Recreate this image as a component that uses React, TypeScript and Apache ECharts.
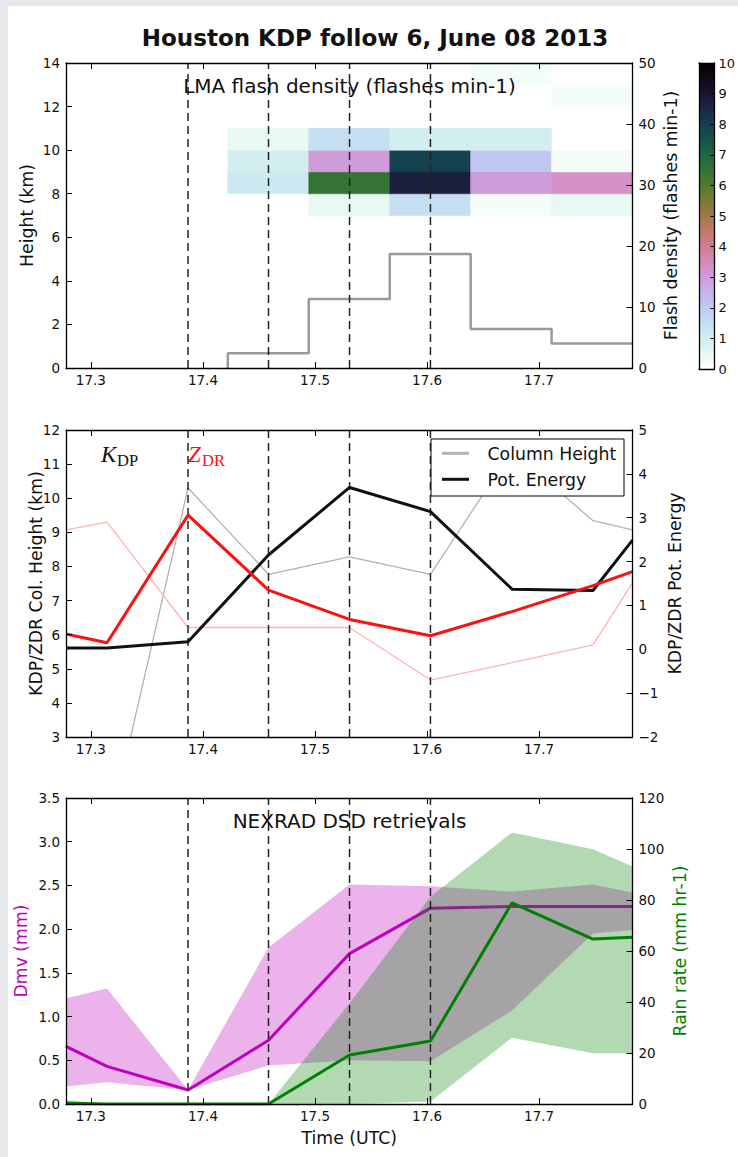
import React, { useEffect, useRef } from "react";
import * as echarts from "echarts";

// ---------------- data ----------------
const X_MIN = 17.2778;
const X_MAX = 17.7833;
const X_TICKS = [17.3, 17.4, 17.5, 17.6, 17.7];
const VOLUME_MARKS = [17.3867, 17.4585, 17.5308, 17.603];

// LMA panel
const LMA_BIN_EDGES = [17.2778, 17.35, 17.4222, 17.4944, 17.5667, 17.6389, 17.7111, 17.7833];
const FLASH_RATE = [0, 0, 2.4, 11.3, 18.7, 6.4, 4.0];
const DENSITY_ROW_KM = [7, 8, 9, 10, 12, 13];
const DENSITY_7KM = [0, 0, 0, 0.5, 1.5, 0.2, 0.5];
const DENSITY_8KM = [0, 0, 1.2, 6.5, 8.7, 3.0, 3.3];
const DENSITY_9KM = [0, 0, 1.0, 3.0, 7.9, 2.1, 0.2];
const DENSITY_10KM = [0, 0, 0.5, 1.5, 1.0, 1.0, 0];
const DENSITY_12KM = [0, 0, 0, 0, 0, 0, 0.2];
const DENSITY_13KM = [0, 0, 0, 0, 0, 0.2, 0];
const DENSITY_ROWS = [DENSITY_7KM, DENSITY_8KM, DENSITY_9KM, DENSITY_10KM, DENSITY_12KM, DENSITY_13KM];

// radar volume times
const TIMES = [17.2778, 17.3144, 17.3867, 17.4585, 17.5308, 17.603, 17.6758, 17.748, 17.7833];
// KDP / ZDR panel
const KDP_COL_HEIGHT = [0, 0, 10.3, 7.77, 8.28, 7.77, 11.4, 9.34, 9.07];
const ZDR_COL_HEIGHT = [9.07, 9.3, 6.21, 6.21, 6.21, 4.67, 5.18, 5.7, 7.52];
const KDP_POT_ENERGY = [0.03, 0.03, 0.17, 2.15, 3.69, 3.14, 1.37, 1.34, 2.49];
const ZDR_POT_ENERGY = [0.35, 0.15, 3.06, 1.35, 0.68, 0.31, 0.86, 1.45, 1.77];
// DSD panel
const DMV = [0.66, 0.43, 0.16, 0.73, 1.72, 2.24, 2.26, 2.26, 2.26];
const DMV_HI = [1.21, 1.32, 0.16, 1.79, 2.51, 2.49, 2.43, 2.51, 2.42];
const DMV_LO = [0.2, 0.25, 0.16, 0.44, 0.5, 0.49, 1.07, 1.95, 1.99];
const RAIN = [0.3, 0, 0, 0, 19.2, 24.7, 78.9, 64.7, 65.4];
const RAIN_HI = [1.6, 0, 0, 0, 39.5, 81.3, 106.5, 99.9, 93.1];
const RAIN_LO = [0, 0, 0, 0, 0, 1, 26, 19.9, 19.9];

const COLORBAR_RANGE = [0, 10];

// ---------------- colormap (cubehelix reversed) ----------------
function cubehelixR(v: number): string {
  const lam = Math.min(1, Math.max(0, 1 - v / 10));
  const a = (lam * (1 - lam)) / 2;
  const phi = 2 * Math.PI * (0.5 / 3 - 1.5 * lam);
  const c = Math.cos(phi);
  const s = Math.sin(phi);
  const r = lam + a * (-0.14861 * c + 1.78277 * s);
  const g = lam + a * (-0.29227 * c - 0.90649 * s);
  const b = lam + a * (1.97294 * c);
  const to = (x: number) => Math.round(Math.min(1, Math.max(0, x)) * 255);
  return `rgb(${to(r)},${to(g)},${to(b)})`;
}
const CMAP = Array.from({ length: 41 }, (_, i) => cubehelixR(i * 0.25));

const FONT = "DejaVu Sans";
const TICK_FS = 13.5;
const LABEL_FS = 17.3;
const FRAME = { show: true, onZero: false, lineStyle: { color: "#000", width: 1.3 } };

const pair = (xs: number[], ys: number[]) => xs.map((x, i) => [x, ys[i]]);

export default function App() {
  const ref = useRef<HTMLDivElement>(null);

  useEffect(() => {
    if (!ref.current) return;
    const chart = echarts.init(ref.current, null, { renderer: "svg" });

    const grids = [
      { left: 66, top: 63, width: 566.5, height: 305 },
      { left: 66, top: 430, width: 566.5, height: 307 },
      { left: 66, top: 798, width: 566.5, height: 306 },
      { left: 699, top: 63, width: 16, height: 306 },
    ].map((g) => ({ ...g, show: false }));

    const tick = { show: true, inside: true, length: 6, lineStyle: { color: "#000", width: 1 } };
    const xAxisPair = (gi: number, withName?: string) => [
      {
        type: "value", gridIndex: gi, min: X_MIN, max: X_MAX, position: "bottom", z: 10,
        axisLine: FRAME, splitLine: { show: false },
        axisTick: { ...tick, customValues: X_TICKS },
        axisLabel: { customValues: X_TICKS, formatter: (v: number) => v.toFixed(1), fontFamily: FONT, fontSize: TICK_FS, color: "#111", margin: 5 },
        name: withName || "", nameLocation: "middle", nameGap: 25, nameMoveOverlap: false,
        nameTextStyle: { fontFamily: FONT, fontSize: LABEL_FS, color: "#111" },
      },
      {
        type: "value", gridIndex: gi, min: X_MIN, max: X_MAX, position: "top", z: 10,
        axisLine: FRAME, splitLine: { show: false },
        axisTick: { ...tick, customValues: X_TICKS },
        axisLabel: { show: false, customValues: X_TICKS },
      },
    ];
    const minus = (v: number) => (v < 0 ? "\u2212" + Math.abs(v) : String(v));
    const yAxis = (gi: number, position: string, min: number, max: number, interval: number, name: string, nameGap: number, nameColor = "#111", fmt: any = minus) => ({
      type: "value", gridIndex: gi, position, min, max, interval, z: 10,
      axisLine: FRAME, splitLine: { show: false },
      axisTick: tick,
      axisLabel: { fontFamily: FONT, fontSize: TICK_FS, color: "#111", margin: 6, formatter: fmt },
      name, nameLocation: "middle", nameGap, nameRotate: 90, nameMoveOverlap: false,
      nameTextStyle: { fontFamily: FONT, fontSize: LABEL_FS, color: nameColor },
    });

    const dashed = (xi: number, yi: number, lo: number, hi: number, z = 3) =>
      VOLUME_MARKS.map((t) => ({
        type: "line", xAxisIndex: xi, yAxisIndex: yi, data: [[t, lo], [t, hi]], z,
        symbol: "none", silent: true,
        lineStyle: { color: "#222", width: 1.5, type: [8, 5] },
      }));

    const band = (xi: number, yi: number, lo: number[], hi: number[], fill: string, z: number) => ({
      type: "custom", xAxisIndex: xi, yAxisIndex: yi, silent: true, clip: true, z,
      data: TIMES.map((t, i) => [t, lo[i], hi[i]]),
      encode: { x: 0, y: [1, 2] },
      renderItem: (params: any, api: any) => {
        if (params.dataIndexInside !== 0) return null;
        const n = params.dataInsideLength;
        const pts: number[][] = [];
        for (let i = 0; i < n; i++) pts.push(api.coord([api.value(0, i), api.value(1, i)]));
        for (let i = n - 1; i >= 0; i--) pts.push(api.coord([api.value(0, i), api.value(2, i)]));
        return { type: "polygon", shape: { points: pts }, style: { fill } };
      },
    });

    // heatmap cells
    const cells: number[][] = [];
    DENSITY_ROWS.forEach((row, r) => {
      row.forEach((v, c) => {
        if (v > 0) cells.push([LMA_BIN_EDGES[c], LMA_BIN_EDGES[c + 1], DENSITY_ROW_KM[r], DENSITY_ROW_KM[r] + 1, v]);
      });
    });
    const firstFlash = FLASH_RATE.findIndex((v) => v > 0);
    const flashStep = [
      [LMA_BIN_EDGES[firstFlash], 0],
      ...LMA_BIN_EDGES.slice(firstFlash).map((t, i) => [t, FLASH_RATE[Math.min(firstFlash + i, FLASH_RATE.length - 1)]]),
    ];

    const series: any[] = [
      {
        type: "custom", xAxisIndex: 0, yAxisIndex: 0, data: cells, clip: true, z: 2,
        encode: { x: [0, 1], y: [2, 3] },
        renderItem: (params: any, api: any) => {
          const p0 = api.coord([api.value(0), api.value(3)]);
          const p1 = api.coord([api.value(1), api.value(2)]);
          const col = api.visual("color");
          return {
            type: "rect",
            shape: { x: p0[0], y: p0[1], width: p1[0] - p0[0], height: p1[1] - p0[1] },
            style: { fill: col, stroke: col, lineWidth: 0.5 },
          };
        },
      },
      {
        type: "line", xAxisIndex: 0, yAxisIndex: 1, data: flashStep, step: "end", z: 3,
        symbol: "none", lineStyle: { color: "#999", width: 2.5 },
      },
      ...dashed(0, 0, 0, 14),
      // panel 2
      { type: "line", xAxisIndex: 2, yAxisIndex: 2, z: 2, data: pair(TIMES, KDP_COL_HEIGHT), symbol: "none", lineStyle: { color: "#b3b3b3", width: 1.3 } },
      { type: "line", xAxisIndex: 2, yAxisIndex: 2, z: 2, data: pair(TIMES, ZDR_COL_HEIGHT), symbol: "none", lineStyle: { color: "#ffb3b3", width: 1.3 } },
      ...dashed(2, 2, 3, 12),
      { type: "line", xAxisIndex: 2, yAxisIndex: 3, z: 4, data: pair(TIMES, KDP_POT_ENERGY), symbol: "none", lineStyle: { color: "#111", width: 3 } },
      { type: "line", xAxisIndex: 2, yAxisIndex: 3, z: 5, data: pair(TIMES, ZDR_POT_ENERGY), symbol: "none", lineStyle: { color: "#ff1010", width: 3 } },
      // panel 3
      band(4, 4, DMV_LO, DMV_HI, "rgba(191,0,191,0.3)", 2),
      { type: "line", xAxisIndex: 4, yAxisIndex: 4, z: 3, data: pair(TIMES, DMV), symbol: "none", lineStyle: { color: "#bf00bf", width: 3 } },
      band(4, 5, RAIN_LO, RAIN_HI, "rgba(0,128,0,0.3)", 4),
      ...dashed(4, 4, 0, 3.5, 5),
      { type: "line", xAxisIndex: 4, yAxisIndex: 5, z: 6, data: pair(TIMES, RAIN), symbol: "none", lineStyle: { color: "#008000", width: 3 } },
      // colorbar
      {
        type: "custom", xAxisIndex: 6, yAxisIndex: 7, data: [[0.5, ...COLORBAR_RANGE]],
        encode: { x: 0, y: [1, 2] },
        renderItem: (params: any, api: any) => {
          const cs = params.coordSys;
          return {
            type: "rect",
            shape: { x: cs.x, y: cs.y, width: cs.width, height: cs.height },
            style: {
              fill: new echarts.graphic.LinearGradient(0, 1, 0, 0, CMAP.map((c, i) => ({ offset: i / (CMAP.length - 1), color: c }))),
            },
          };
        },
      },
    ];

    const txt = (x: number, y: number, text: string, font: string, fill = "#111", align = "center") => ({
      type: "text", x, y, z: 60,
      style: { text, font, fill, align, verticalAlign: "middle" },
    });

    const cbAxisBase = { type: "value", gridIndex: 3, min: 0, max: 1, z: 10, axisLine: FRAME, axisTick: { show: false }, axisLabel: { show: false }, splitLine: { show: false } };

    const option: any = {
      animation: false,
      backgroundColor: "transparent",
      textStyle: { fontFamily: FONT },
      grid: grids,
      xAxis: [
        ...xAxisPair(0),
        ...xAxisPair(1),
        ...xAxisPair(2, "Time (UTC)"),
        { ...cbAxisBase, position: "bottom" },
        { ...cbAxisBase, position: "top" },
      ],
      yAxis: [
        yAxis(0, "left", 0, 14, 2, "Height (km)", 31),
        yAxis(0, "right", 0, 50, 10, "Flash density (flashes min-1)", 30),
        yAxis(1, "left", 3, 12, 1, "KDP/ZDR Col. Height (km)", 22),
        yAxis(1, "right", -2, 5, 1, "KDP/ZDR Pot. Energy", 34),
        yAxis(2, "left", 0, 3.5, 0.5, "Dmv (mm)", 37, "#bf00bf", (v: number) => v.toFixed(1)),
        yAxis(2, "right", 0, 120, 20, "Rain rate (mm hr-1)", 39, "#008000"),
        { ...cbAxisBase, position: "left", min: 0, max: 10 },
        {
          type: "value", gridIndex: 3, position: "right", min: 0, max: 10, interval: 1, z: 10,
          axisLine: FRAME, splitLine: { show: false },
          axisTick: { show: true, inside: true, length: 4, lineStyle: { color: "#000", width: 1 } },
          axisLabel: { fontFamily: FONT, fontSize: 13, color: "#111", margin: 4 },
        },
      ],
      visualMap: [
        {
          type: "continuous", show: false, min: 0, max: 10, dimension: 4, seriesIndex: 0,
          inRange: { color: CMAP },
        },
      ],
      graphic: [
        txt(375, 38, "Houston KDP follow 6, June 08 2013", `bold 23px "${FONT}"`),
        txt(349.5, 86, "LMA flash density (flashes min-1)", `20px "${FONT}"`),
        txt(349.5, 821, "NEXRAD DSD retrievals", `20px "${FONT}"`),
        txt(101, 454, "K", `italic 23px "Liberation Serif"`, "#111", "left"),
        txt(117, 460, "DP", `16.5px "Liberation Serif"`, "#111", "left"),
        txt(188, 454, "Z", `italic 23px "Liberation Serif"`, "#ff1010", "left"),
        txt(202, 460, "DR", `16.5px "Liberation Serif"`, "#ff1010", "left"),
        {
          type: "rect", z: 55, shape: { x: 431, y: 439, width: 193, height: 57 },
          style: { fill: "#fff", stroke: "#000", lineWidth: 1 },
        },
        { type: "line", z: 60, shape: { x1: 442, y1: 453.3, x2: 469, y2: 453.3 }, style: { stroke: "#b3b3b3", lineWidth: 3 } },
        { type: "line", z: 60, shape: { x1: 442, y1: 479.3, x2: 469, y2: 479.3 }, style: { stroke: "#111", lineWidth: 3 } },
        txt(487.5, 453.5, "Column Height", `${LABEL_FS}px "${FONT}"`, "#111", "left"),
        txt(487.5, 479.5, "Pot. Energy", `${LABEL_FS}px "${FONT}"`, "#111", "left"),
      ],
      series,
    };

    chart.setOption(option);
    return () => chart.dispose();
  }, []);

  return (
    <div style={{ position: "absolute", left: 0, top: 0, width: 738, height: 1157, background: "#e6e8ec", overflow: "hidden" }}>
      <div style={{ position: "absolute", left: 8, top: 6, width: 730, height: 1151, background: "#fff" }} />
      <div ref={ref} style={{ position: "absolute", left: 0, top: 0, width: 738, height: 1157 }} />
    </div>
  );
}
